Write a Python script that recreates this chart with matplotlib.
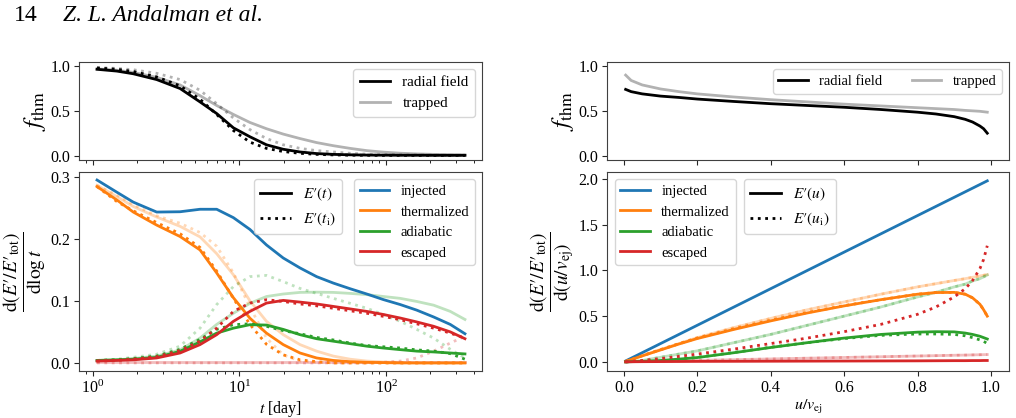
import matplotlib
matplotlib.use("Agg")
import matplotlib.pyplot as plt
from matplotlib.lines import Line2D

plt.rcParams['font.family'] = ['Liberation Serif', 'DejaVu Serif']
plt.rcParams['mathtext.fontset'] = 'stix'
plt.rcParams['font.size'] = 11.5
plt.rcParams['legend.fontsize'] = 10.5

# ---------------- data: left column (vs time) ----------------
t_day = [1.07, 1.46, 1.89, 2.73, 3.94, 5.39, 7.0, 9.1, 11.8, 15.3, 19.9,
         25.9, 33.6, 43.7, 56.9, 73.9, 95.9, 125, 162, 211, 274, 345]

fthm_t_radial = [0.965, 0.945, 0.915, 0.85, 0.75, 0.6, 0.47, 0.31, 0.21, 0.12, 0.07,
                 0.04, 0.022, 0.013, 0.008, 0.005, 0.004, 0.003, 0.003, 0.002, 0.002, 0.002]
fthm_ti_radial = [0.98, 0.965, 0.94, 0.88, 0.78, 0.63, 0.46, 0.28, 0.15, 0.08, 0.045,
                  0.025, 0.013, 0.007, 0.004, 0.003, 0.002, 0.002, 0.002, 0.002, 0.002, 0.002]
fthm_t_trapped = [0.97, 0.955, 0.93, 0.875, 0.79, 0.67, 0.56, 0.46, 0.37, 0.3, 0.24,
                  0.19, 0.145, 0.11, 0.08, 0.055, 0.038, 0.026, 0.018, 0.013, 0.01, 0.008]
fthm_ti_trapped = [0.985, 0.975, 0.96, 0.92, 0.85, 0.73, 0.58, 0.42, 0.29, 0.19, 0.12,
                   0.08, 0.055, 0.04, 0.025, 0.015, 0.01, 0.007, 0.005, 0.004, 0.003, 0.003]

inj_t = [0.2946, 0.275, 0.259, 0.243, 0.2435, 0.2475, 0.2475, 0.234, 0.215, 0.19, 0.169,
         0.153, 0.139, 0.1286, 0.1195, 0.111, 0.102, 0.094, 0.085, 0.074, 0.062, 0.047]

therm_t_rad = [0.284, 0.2625, 0.243, 0.222, 0.2036, 0.182, 0.145, 0.105, 0.072, 0.048, 0.0295,
               0.016, 0.008, 0.004, 0.002, 0.001, 0.0005, 0.0, 0.0, 0.0, 0.0, 0.0]
therm_ti_rad = [0.284, 0.26, 0.245, 0.226, 0.208, 0.186, 0.148, 0.104, 0.062, 0.03, 0.013,
                0.005, 0.002, 0.0, 0.0, 0.0, 0.0, 0.0, 0.0, 0.0, 0.0, 0.0]
therm_t_trap = [0.286, 0.268, 0.252, 0.235, 0.22, 0.203, 0.176, 0.142, 0.1, 0.067, 0.0455,
                0.0295, 0.019, 0.011, 0.006, 0.003, 0.0015, 0.001, 0.0, 0.0, 0.0, 0.0]
therm_ti_trap = [0.286, 0.27, 0.255, 0.237, 0.225, 0.21, 0.188, 0.145, 0.09, 0.04, 0.013,
                 0.003, 0.001, 0.0, 0.0, 0.0, 0.0, 0.0, 0.0, 0.0, 0.0, 0.0]

adia_t_rad = [0.004, 0.005, 0.006, 0.009, 0.0187, 0.034, 0.048, 0.056, 0.0616, 0.061, 0.054,
              0.0455, 0.039, 0.035, 0.031, 0.027, 0.024, 0.0214, 0.019, 0.0177, 0.016, 0.0145]
adia_ti_rad = [0.004, 0.005, 0.007, 0.011, 0.022, 0.038, 0.054, 0.0616, 0.063, 0.059, 0.052,
               0.047, 0.041, 0.037, 0.032, 0.028, 0.026, 0.024, 0.021, 0.019, 0.015, 0.006]
adia_t_trap = [0.004, 0.005, 0.007, 0.011, 0.021, 0.04, 0.062, 0.08, 0.096, 0.107, 0.111,
               0.1136, 0.114, 0.1136, 0.112, 0.11, 0.107, 0.104, 0.099, 0.093, 0.083, 0.07]
adia_ti_trap = [0.004, 0.006, 0.009, 0.014, 0.027, 0.056, 0.094, 0.123, 0.139, 0.141, 0.131,
                0.12, 0.112, 0.104, 0.096, 0.088, 0.078, 0.067, 0.054, 0.04, 0.022, 0.008]

esc_t_rad = [0.003, 0.004, 0.005, 0.008, 0.016, 0.0295, 0.0455, 0.067, 0.083, 0.0964, 0.1007,
             0.098, 0.095, 0.091, 0.087, 0.083, 0.078, 0.0723, 0.066, 0.059, 0.05, 0.039]
esc_ti_rad = [0.003, 0.004, 0.006, 0.01, 0.02, 0.035, 0.056, 0.083, 0.0964, 0.1018, 0.099,
              0.095, 0.092, 0.088, 0.084, 0.08, 0.075, 0.0696, 0.063, 0.056, 0.048, 0.04]
esc_t_trap = [0.001] * 22
esc_ti_trap = [0.0, 0.0, 0.0, 0.0, 0.0, 0.0, 0.0, 0.0, 0.0, 0.0, 0.0,
               0.0, 0.0, 0.0, 0.0, 0.0, 0.001, 0.003, 0.008, 0.019, 0.032, 0.043]

# ---------------- data: right column (vs velocity) ----------------
u_vej = [0.005, 0.02, 0.05, 0.1, 0.15, 0.2, 0.3, 0.4, 0.5, 0.6, 0.7, 0.8,
         0.85, 0.9, 0.93, 0.95, 0.97, 0.98, 0.99]

fthm_u_radial = [0.74, 0.715, 0.69, 0.665, 0.65, 0.632, 0.605, 0.58, 0.56, 0.54, 0.515, 0.485,
                 0.465, 0.435, 0.405, 0.375, 0.33, 0.3, 0.25]
fthm_u_trapped = [0.9, 0.84, 0.79, 0.745, 0.715, 0.69, 0.655, 0.625, 0.6, 0.575, 0.555, 0.535,
                  0.525, 0.515, 0.505, 0.5, 0.495, 0.49, 0.485]

inj_u = [0.01, 0.04, 0.1, 0.2, 0.3, 0.4, 0.6, 0.8, 1.0, 1.2, 1.4, 1.6,
         1.7, 1.8, 1.86, 1.9, 1.94, 1.96, 1.98]
therm_u_rad = [0.005, 0.025, 0.065, 0.13, 0.195, 0.255, 0.355, 0.448, 0.535, 0.612, 0.68, 0.74,
               0.758, 0.76, 0.74, 0.7, 0.63, 0.57, 0.5]
therm_ui_rad = [0.005, 0.026, 0.067, 0.133, 0.198, 0.26, 0.362, 0.455, 0.54, 0.615, 0.68, 0.74,
                0.758, 0.76, 0.74, 0.7, 0.63, 0.57, 0.5]
therm_u_trap = [0.005, 0.027, 0.068, 0.135, 0.2, 0.265, 0.375, 0.475, 0.57, 0.655, 0.74, 0.82,
                0.855, 0.89, 0.91, 0.925, 0.94, 0.947, 0.955]
adia_u_rad = [0.0, 0.002, 0.006, 0.015, 0.03, 0.047, 0.1, 0.157, 0.21, 0.26, 0.3, 0.325,
              0.33, 0.328, 0.315, 0.3, 0.28, 0.265, 0.25]
adia_ui_rad = [0.0, 0.002, 0.007, 0.017, 0.032, 0.05, 0.103, 0.16, 0.21, 0.255, 0.29, 0.305,
               0.305, 0.3, 0.285, 0.265, 0.24, 0.225, 0.2]
adia_u_trap = [0.0, 0.005, 0.015, 0.05, 0.085, 0.12, 0.21, 0.3, 0.4, 0.5, 0.6, 0.71,
               0.76, 0.82, 0.85, 0.885, 0.91, 0.93, 0.95]
esc_u_rad = [0.0, 0.001, 0.002, 0.003, 0.004, 0.005, 0.006, 0.007, 0.008, 0.009, 0.01, 0.011,
             0.012, 0.013, 0.013, 0.014, 0.014, 0.015, 0.015]
esc_ui_rad = [0.0, 0.005, 0.015, 0.035, 0.06, 0.085, 0.14, 0.2, 0.26, 0.33, 0.41, 0.52,
              0.6, 0.71, 0.8, 0.89, 1.02, 1.12, 1.27]
esc_u_trap = [0.0, 0.002, 0.004, 0.008, 0.012, 0.016, 0.024, 0.032, 0.04, 0.048, 0.056, 0.064,
              0.068, 0.072, 0.074, 0.076, 0.078, 0.079, 0.08]

categories = ['injected', 'thermalized', 'adiabatic', 'escaped']
colors = ['tab:blue', 'tab:orange', 'tab:green', 'tab:red']

# ---------------- figure ----------------
W, H = 1016, 418
fig = plt.figure(figsize=(W / 100, H / 100), dpi=100)


def ax_px(x0, y0, x1, y1):
    return fig.add_axes([x0 / W, 1 - y1 / H, (x1 - x0) / W, (y1 - y0) / H])


ax_tl = ax_px(79.3, 61.7, 482.3, 160)
ax_bl = ax_px(79.3, 171.7, 482.3, 371)
ax_tr = ax_px(607.3, 61.7, 1009.3, 160)
ax_br = ax_px(607.3, 171.7, 1009.3, 371)

LW = 2
AL = 0.3
DOT = ':'
FRAC_FS = 14
F_FS = 18
P = '\u2032'  # prime

for ax in (ax_tl, ax_bl, ax_tr, ax_br):
    for s in ax.spines.values():
        s.set_color('0.25')
    ax.tick_params(colors='0.15', labelcolor='black', pad=3)

# top-left
ax_tl.plot(t_day, fthm_t_trapped, color='k', alpha=AL, lw=LW, label='trapped')
ax_tl.plot(t_day, fthm_ti_trapped, color='k', alpha=AL, lw=LW, ls=DOT)
ax_tl.plot(t_day, fthm_t_radial, color='k', lw=LW, label='radial field')
ax_tl.plot(t_day, fthm_ti_radial, color='k', lw=LW, ls=DOT)
ax_tl.set_xscale('log')
ax_tl.set_ylim(-0.05, 1.05)
ax_tl.set_yticks([0.0, 0.5, 1.0])
ax_tl.set_ylabel(r'$f_{\rm thm}$', fontsize=F_FS, labelpad=2)
h, l = ax_tl.get_legend_handles_labels()
ax_tl.legend([h[1], h[0]], [l[1], l[0]], loc='upper right', fontsize=11)

# bottom-left
ax_bl.plot(t_day, therm_t_trap, color=colors[1], alpha=AL, lw=LW)
ax_bl.plot(t_day, therm_ti_trap, color=colors[1], alpha=AL, lw=LW, ls=DOT)
ax_bl.plot(t_day, adia_t_trap, color=colors[2], alpha=AL, lw=LW)
ax_bl.plot(t_day, adia_ti_trap, color=colors[2], alpha=AL, lw=LW, ls=DOT)
ax_bl.plot(t_day, esc_t_trap, color=colors[3], alpha=AL, lw=LW)
ax_bl.plot(t_day, esc_ti_trap, color=colors[3], alpha=AL, lw=LW, ls=DOT)
ax_bl.plot(t_day, inj_t, color=colors[0], lw=LW)
ax_bl.plot(t_day, therm_t_rad, color=colors[1], lw=LW)
ax_bl.plot(t_day, therm_ti_rad, color=colors[1], lw=LW, ls=DOT)
ax_bl.plot(t_day, adia_t_rad, color=colors[2], lw=LW)
ax_bl.plot(t_day, adia_ti_rad, color=colors[2], lw=LW, ls=DOT)
ax_bl.plot(t_day, esc_t_rad, color=colors[3], lw=LW)
ax_bl.plot(t_day, esc_ti_rad, color=colors[3], lw=LW, ls=DOT)
ax_bl.set_xscale('log')
ax_bl.set_ylim(-0.013, 0.308)
ax_bl.set_yticks([0.0, 0.1, 0.2, 0.3])
ax_tl.set_xlim(0.81, 453)
ax_bl.set_xlim(0.81, 453)
ax_tl.tick_params(axis='x', which='both', labelbottom=False)
ax_bl.set_xlabel(r'$t$ [day]', labelpad=1.5)
ax_bl.set_ylabel(r"$\dfrac{\mathrm{d}(E" + P + "/E" + P + r"_{\mathrm{tot}})}{\mathrm{d}\log t}$",
                 fontsize=FRAC_FS, labelpad=2)

cat_handles = [Line2D([], [], color=c, lw=LW) for c in colors]
ls_handles = [Line2D([], [], color='k', lw=LW), Line2D([], [], color='k', lw=LW, ls=DOT)]
leg1 = ax_bl.legend(cat_handles, categories, loc='upper right')
ax_bl.add_artist(leg1)
ax_bl.legend(ls_handles, ["$E" + P + "(t)$", "$E" + P + r"(t_{\rm i})$"],
             loc='upper right', bbox_to_anchor=(0.672, 1.0), fontsize=11)

# top-right
ax_tr.plot(u_vej, fthm_u_radial, color='k', lw=LW, label='radial field')
ax_tr.plot(u_vej, fthm_u_trapped, color='k', alpha=AL, lw=LW, label='trapped')
ax_tr.set_ylim(-0.05, 1.05)
ax_tr.set_yticks([0.0, 0.5, 1.0])
ax_tr.set_ylabel(r'$f_{\rm thm}$', fontsize=F_FS, labelpad=2)
ax_tr.legend(loc='upper right', ncol=2)

# bottom-right
ax_br.plot(u_vej, therm_u_trap, color=colors[1], alpha=AL, lw=LW)
ax_br.plot(u_vej, therm_u_trap, color=colors[1], alpha=AL, lw=LW, ls=DOT)
ax_br.plot(u_vej, adia_u_trap, color=colors[2], alpha=AL, lw=LW)
ax_br.plot(u_vej, adia_u_trap, color=colors[2], alpha=AL, lw=LW, ls=DOT)
ax_br.plot(u_vej, esc_u_trap, color=colors[3], alpha=AL, lw=LW)
ax_br.plot(u_vej, esc_u_trap, color=colors[3], alpha=AL, lw=LW, ls=DOT)
ax_br.plot(u_vej, inj_u, color=colors[0], lw=LW)
ax_br.plot(u_vej, therm_u_rad, color=colors[1], lw=LW)
ax_br.plot(u_vej, therm_ui_rad, color=colors[1], lw=LW, ls=DOT)
ax_br.plot(u_vej, adia_u_rad, color=colors[2], lw=LW)
ax_br.plot(u_vej, adia_ui_rad, color=colors[2], lw=LW, ls=DOT)
ax_br.plot(u_vej, esc_u_rad, color=colors[3], lw=LW)
ax_br.plot(u_vej, esc_ui_rad, color=colors[3], lw=LW, ls=DOT)
ax_br.set_ylim(-0.1, 2.08)
ax_tr.set_xlim(-0.045, 1.05)
ax_br.set_xlim(-0.045, 1.05)
ax_tr.tick_params(axis='x', which='both', labelbottom=False)
ax_br.set_xlabel(r'$u/v_{\rm ej}$', labelpad=1.5)
ax_br.set_ylabel(r"$\dfrac{\mathrm{d}(E" + P + "/E" + P
                 + r"_{\mathrm{tot}})}{\mathrm{d}(u/v_{\mathrm{ej}})}$",
                 fontsize=FRAC_FS, labelpad=2)
leg2 = ax_br.legend(cat_handles, categories, loc='upper left')
ax_br.add_artist(leg2)
ax_br.legend(ls_handles, ["$E" + P + "(u)$", "$E" + P + r"(u_{\rm i})$"],
             loc='upper left', bbox_to_anchor=(0.322, 1.0), fontsize=11)

# page header
fig.text(14 / W, 1 - 21 / H, '14', fontsize=17, va='baseline')
fig.text(63 / W, 1 - 21 / H, 'Z. L. Andalman et al.', fontsize=17, style='italic', va='baseline')

fig.savefig('out.png', dpi=100)
